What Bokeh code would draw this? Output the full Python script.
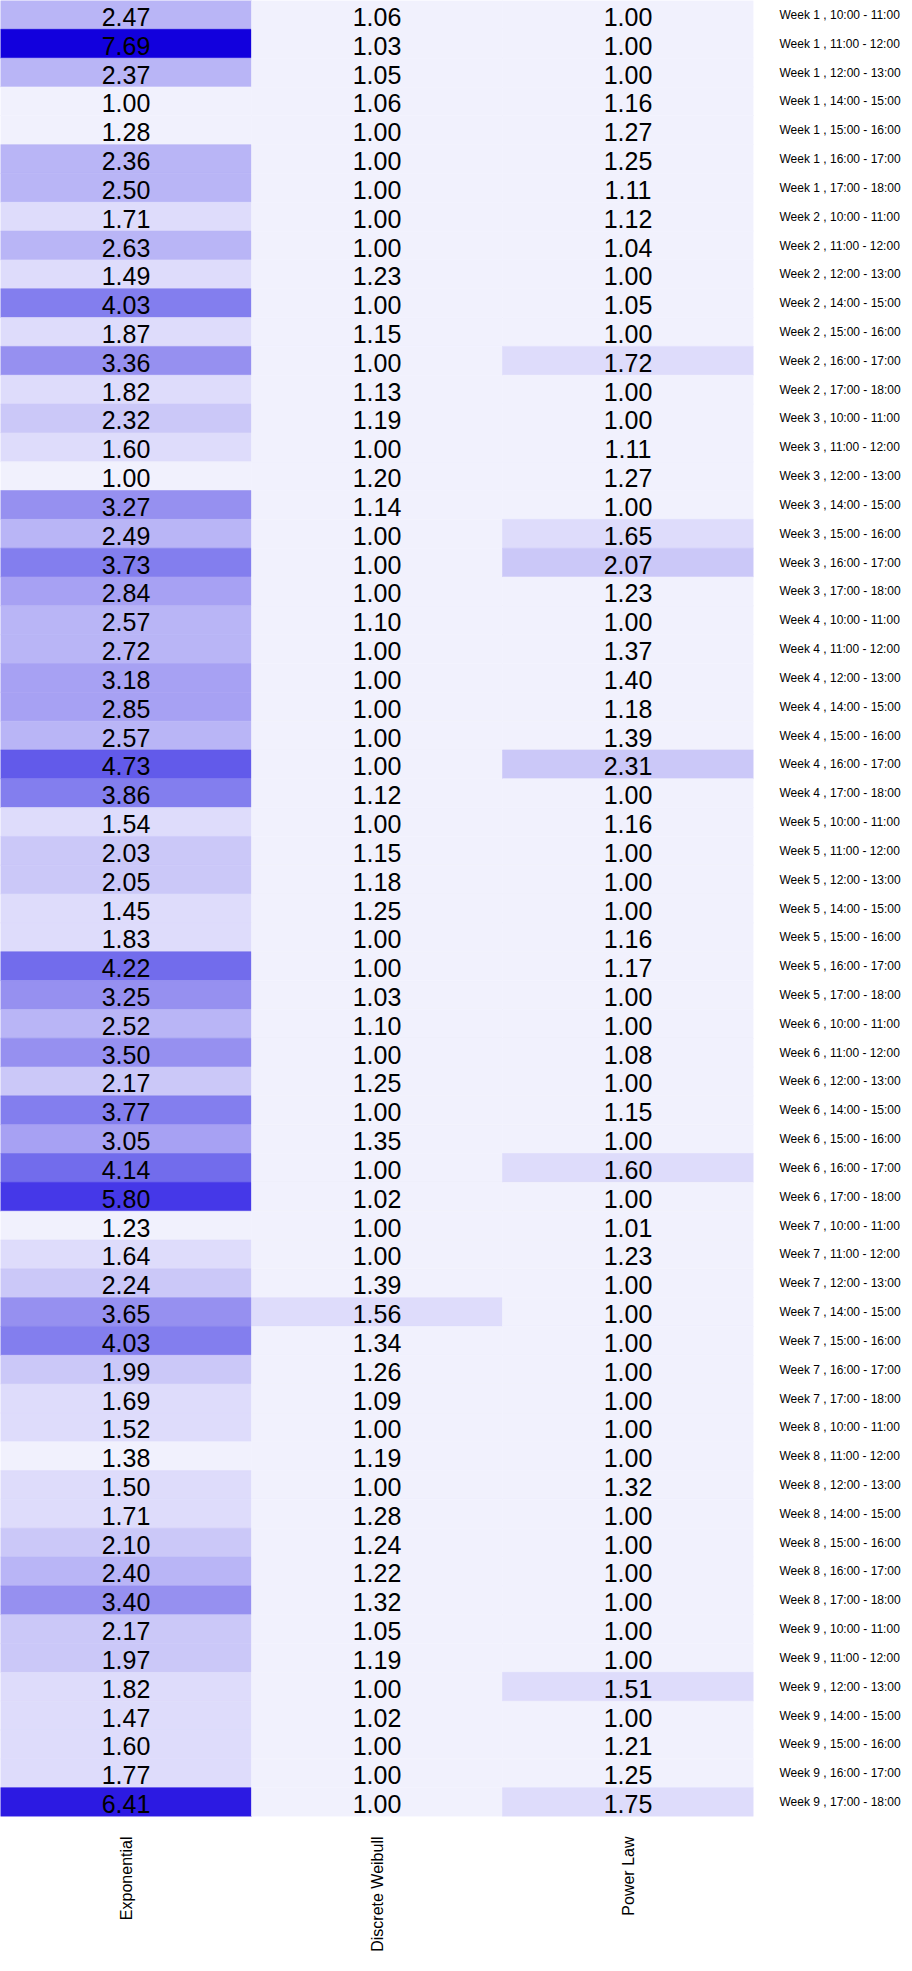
import math
from bokeh.plotting import figure
from bokeh.models import ColumnDataSource, LinearColorMapper
from bokeh.transform import transform
from bokeh.core.properties import value
from bokeh.embed import file_html
from bokeh.resources import INLINE

models = ["Exponential", "Discrete Weibull", "Power Law"]
weeks = ["Week 1", "Week 2", "Week 3", "Week 4", "Week 5", "Week 6", "Week 7", "Week 8", "Week 9"]
slots = ["10:00 - 11:00", "11:00 - 12:00", "12:00 - 13:00", "14:00 - 15:00",
         "15:00 - 16:00", "16:00 - 17:00", "17:00 - 18:00"]

exponential = [
    2.47, 7.69, 2.37, 1.00, 1.28, 2.36, 2.50,
    1.71, 2.63, 1.49, 4.03, 1.87, 3.36, 1.82,
    2.32, 1.60, 1.00, 3.27, 2.49, 3.73, 2.84,
    2.57, 2.72, 3.18, 2.85, 2.57, 4.73, 3.86,
    1.54, 2.03, 2.05, 1.45, 1.83, 4.22, 3.25,
    2.52, 3.50, 2.17, 3.77, 3.05, 4.14, 5.80,
    1.23, 1.64, 2.24, 3.65, 4.03, 1.99, 1.69,
    1.52, 1.38, 1.50, 1.71, 2.10, 2.40, 3.40,
    2.17, 1.97, 1.82, 1.47, 1.60, 1.77, 6.41,
]
discrete_weibull = [
    1.06, 1.03, 1.05, 1.06, 1.00, 1.00, 1.00,
    1.00, 1.00, 1.23, 1.00, 1.15, 1.00, 1.13,
    1.19, 1.00, 1.20, 1.14, 1.00, 1.00, 1.00,
    1.10, 1.00, 1.00, 1.00, 1.00, 1.00, 1.12,
    1.00, 1.15, 1.18, 1.25, 1.00, 1.00, 1.03,
    1.10, 1.00, 1.25, 1.00, 1.35, 1.00, 1.02,
    1.00, 1.00, 1.39, 1.56, 1.34, 1.26, 1.09,
    1.00, 1.19, 1.00, 1.28, 1.24, 1.22, 1.32,
    1.05, 1.19, 1.00, 1.02, 1.00, 1.00, 1.00,
]
power_law = [
    1.00, 1.00, 1.00, 1.16, 1.27, 1.25, 1.11,
    1.12, 1.04, 1.00, 1.05, 1.00, 1.72, 1.00,
    1.00, 1.11, 1.27, 1.00, 1.65, 2.07, 1.23,
    1.00, 1.37, 1.40, 1.18, 1.39, 2.31, 1.00,
    1.16, 1.00, 1.00, 1.00, 1.16, 1.17, 1.00,
    1.00, 1.08, 1.00, 1.15, 1.00, 1.60, 1.00,
    1.01, 1.23, 1.00, 1.00, 1.00, 1.00, 1.00,
    1.00, 1.00, 1.32, 1.00, 1.00, 1.00, 1.00,
    1.00, 1.00, 1.51, 1.00, 1.21, 1.25, 1.75,
]

row_labels = [f"{w} , {s}" for w in weeks for s in slots]
series = [exponential, discrete_weibull, power_law]

xs, ys, vals, txt = [], [], [], []
for m, vs in zip(models, series):
    for lab, v in zip(row_labels, vs):
        xs.append(m)
        ys.append(lab)
        vals.append(v)
        txt.append(f"{v:.2f}")

src = ColumnDataSource(dict(model=xs, label=ys, value=vals, text=txt))

palette = ["#f1f1fd", "#dedcfb", "#cbc8f8", "#b9b5f6", "#a7a1f3", "#9690f0",
           "#837eee", "#726cec", "#625aea", "#5349e9", "#4538e8", "#3829e5",
           "#2c1ae2", "#1f0ddf", "#1200dd"]
all_vals = exponential + discrete_weibull + power_law
mapper = LinearColorMapper(palette=palette, low=min(all_vals), high=max(all_vals))

p = figure(x_range=models, y_range=list(reversed(row_labels)),
           frame_width=753, frame_height=1816,
           output_backend="svg", toolbar_location=None,
           min_border=0, y_axis_location="right", tools="")

p.rect(x="model", y="label", width=1, height=1, source=src,
       fill_color=transform("value", mapper),
       line_color=transform("value", mapper), line_width=0.6)
p.text(x="model", y="label", text="text", source=src,
       text_align="center", text_baseline="middle",
       text_font=value("Liberation Sans"), text_font_size="25px",
       text_color="black", y_offset=2)

p.outline_line_color = None
p.grid.visible = False
for ax in p.axis:
    ax.axis_line_color = None
    ax.major_tick_line_color = None
    ax.minor_tick_line_color = None
    ax.major_tick_out = 0
    ax.major_tick_in = 0
    ax.major_label_text_font = "Liberation Sans"
    ax.major_label_text_color = "black"

p.yaxis.major_label_text_font_size = "12px"
p.yaxis.major_label_standoff = 26
p.xaxis.major_label_text_font_size = "16px"
p.xaxis.major_label_orientation = math.pi / 2
p.xaxis.major_label_standoff = 20

open("out.html", "w").write(file_html(p, INLINE))
